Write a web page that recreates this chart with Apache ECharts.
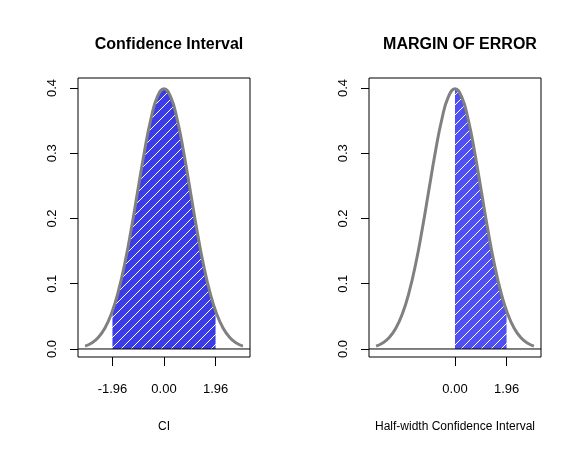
<!DOCTYPE html>
<html><head><meta charset="utf-8">
<script src="https://cdn.jsdelivr.net/npm/echarts@6/dist/echarts.min.js"></script>
<style>html,body{margin:0;padding:0;background:#fff}#c{width:582px;height:455px}</style>
</head><body><div id="c"></div>
<script>
const curveX = [-3,-2.75,-2.5,-2.25,-2,-1.75,-1.5,-1.25,-1,-0.75,-0.5,-0.25,0,0.25,0.5,0.75,1,1.25,1.5,1.75,2,2.25,2.5,2.75,3];
const curveY = [0.0044,0.0091,0.0175,0.0317,0.0540,0.0863,0.1295,0.1826,0.2420,0.3011,0.3521,0.3867,0.3989,0.3867,0.3521,0.3011,0.2420,0.1826,0.1295,0.0863,0.0540,0.0317,0.0175,0.0091,0.0044];
const ciLow = -1.96, ciHigh = 1.96, ciEdgeY = 0.0584;
const leftTicks = [-1.96, 0, 1.96];
const rightTicks = [0, 1.96];
const yTicks = [0, 0.1, 0.2, 0.3, 0.4];
const titles = ['Confidence Interval', 'MARGIN OF ERROR'];
const xNames = ['CI', 'Half-width Confidence Interval'];

function hatch(color){
  const c = document.createElement('canvas'); c.width = 10; c.height = 10;
  const g = c.getContext('2d');
  g.fillStyle = color; g.fillRect(0,0,10,10);
  g.strokeStyle = '#ffffff'; g.lineWidth = 1;
  g.beginPath(); g.moveTo(0,10); g.lineTo(10,0);
  g.moveTo(-2,2); g.lineTo(2,-2); g.moveTo(8,12); g.lineTo(12,8); g.stroke();
  return {image: c, repeat: 'repeat'};
}
function shade(lo, hi){
  const pts = [];
  const yAt = x => x === 0 ? 0.3989 : ciEdgeY;
  pts.push([lo, yAt(lo)]);
  curveX.forEach((x,i)=>{ if (x>lo && x<hi) pts.push([x, curveY[i]]); });
  pts.push([hi, yAt(hi)]);
  return pts;
}
const curve = curveX.map((x,i)=>[x, curveY[i]]);
const XMIN=-3.27, XMAX=3.27, YMIN=-0.0123, YMAX=0.4153;
const lefts = [78, 369];
const font = 'Liberation Sans, Arial, sans-serif';

const grid=[], xAxis=[], yAxis=[], series=[];
[0,1].forEach(p=>{
  grid.push({left: lefts[p], width: 172, top: 78, height: 279, show: true, borderColor: '#000', borderWidth: 1, containLabel: false});
  const ticks = p===0 ? leftTicks : rightTicks;
  xAxis.push({gridIndex:p, type:'value', position:'bottom', min:XMIN, max:XMAX, axisLine:{show:false, onZero:false}, splitLine:{show:false},
    axisTick:{show:true, inside:false, length:9, lineStyle:{color:'#000'}, customValues: ticks},
    axisLabel:{show:true, margin:26, fontSize:13, fontFamily:font, color:'#000', customValues: ticks, formatter: v=>v.toFixed(2)},
    name: xNames[p], nameLocation:'middle', nameGap:64, nameTextStyle:{fontSize:12, fontFamily:font, color:'#000'}});
  yAxis.push({gridIndex:p, type:'value', position:'left', min:YMIN, max:YMAX, axisLine:{show:false, onZero:false}, splitLine:{show:false},
    axisTick:{show:true, length:8, lineStyle:{color:'#000'}, customValues: yTicks},
    axisLabel:{show:true, rotate:90, margin:19, fontSize:13, fontFamily:font, color:'#000', customValues: yTicks, formatter: v=>v.toFixed(1)}});
  const sh = p===0 ? shade(ciLow, ciHigh) : shade(0, ciHigh);
  series.push({type:'line', xAxisIndex:p, yAxisIndex:p, data: sh, smooth:true, symbol:'none',
    lineStyle:{width:0}, areaStyle:{color: hatch(p===0 ? '#3c3ce6' : '#5050f0'), opacity:1}, z:2});
  series.push({type:'line', xAxisIndex:p, yAxisIndex:p, data: [[XMIN,0],[XMAX,0]], symbol:'none',
    lineStyle:{color:'#000', width:1}, z:3});
  series.push({type:'line', xAxisIndex:p, yAxisIndex:p, data: curve, smooth:true, symbol:'none',
    lineStyle:{color:'#808080', width:3}, z:4});
});
const chart = echarts.init(document.getElementById('c'));
chart.setOption({
  animation:false, backgroundColor:'#fff',
  title: [0,1].map(p=>({text: titles[p], left: lefts[p]+86, top: 32, textAlign:'center',
    textStyle:{fontSize:16, fontWeight:'bold', fontFamily:font, color:'#000'}})),
  grid, xAxis, yAxis, series
});
</script></body></html>
